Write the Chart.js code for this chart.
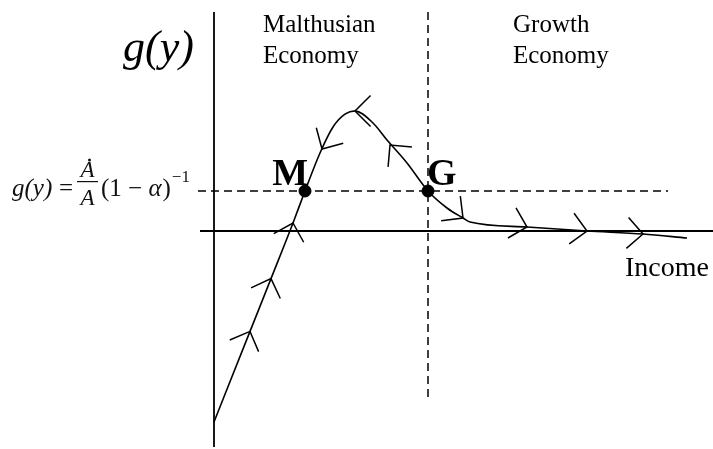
<!DOCTYPE html>
<html>
<head>
<meta charset="utf-8">
<script src="https://cdn.jsdelivr.net/npm/chart.js"></script>
<style>
  html, body { margin: 0; padding: 0; background: #fff; }
  #wrap { width: 713px; height: 449px; position: relative; }
</style>
</head>
<body>
<div id="wrap"><canvas id="growthChart"></canvas></div>
<script>
// Phase diagram: growth rate g(y) against income
const incomeRange = [-4.28, 9.98];
const growthRange = [-5.45, 5.775];

// path of the economy
const curveIncome = [0, 0.72, 1.14, 1.58, 1.82, 2.12, 2.38, 2.62, 2.82, 3.18, 3.46, 3.86, 4.28, 4.66, 4.98, 5.12, 6.26, 7.46, 8.58, 9.46];
const curveGrowth = [-4.775, -2.51, -1.19, 0.2, 1.0, 1.95, 2.6, 2.92, 3.0, 2.7, 2.275, 1.7, 1.0, 0.575, 0.325, 0.225, 0.1, 0.0, -0.075, -0.175];

// steady-state growth level and the two equilibria
const steadyGrowth = 1;
const equilibriaLabels = ['M', 'G'];
const equilibriaIncome = [1.82, 4.28];
const equilibriaGrowth = [1, 1];

// direction arrows along the path (heading in degrees, screen orientation)
const arrowIncome = [0.72, 1.14, 1.58, 2.16, 2.82, 3.52, 4.98, 6.26, 7.46, 8.58];
const arrowGrowth = [-2.51, -1.19, 0.2, 2.05, 3.0, 2.15, 0.325, 0.1, 0.0, -0.075];
const arrowHeading = [-68, -70, -74, 120, 180, -130, 38, 15, 9, 4];

const toPoints = (xs, ys) => xs.map((x, i) => ({ x: x, y: ys[i] }));

const arrowPlugin = {
    id: 'arrows',
    afterDatasetsDraw(chart) {
        const c = chart.ctx;
        const sx = chart.scales.x, sy = chart.scales.y;
        c.save();
        c.strokeStyle = '#000';
        c.lineWidth = 1.5;
        arrowIncome.forEach((v, i) => {
            const px = sx.getPixelForValue(v);
            const py = sy.getPixelForValue(arrowGrowth[i]);
            const back = (arrowHeading[i] + 180) * Math.PI / 180;
            const spread = 45 * Math.PI / 180;
            c.beginPath();
            c.moveTo(px + 22 * Math.cos(back - spread), py + 22 * Math.sin(back - spread));
            c.lineTo(px, py);
            c.lineTo(px + 22 * Math.cos(back + spread), py + 22 * Math.sin(back + spread));
            c.stroke();
        });
        c.restore();
    }
};

const labelPlugin = {
    id: 'labels',
    afterDraw(chart) {
        const c = chart.ctx;
        const sx = chart.scales.x, sy = chart.scales.y;
        c.save();
        c.fillStyle = '#000';
        c.textBaseline = 'alphabetic';

        // axis title
        c.font = 'italic 44px "Liberation Serif"';
        c.fillText('g(y)', 123, 61);

        // regime labels
        c.font = '25px "Liberation Serif"';
        c.fillText('Malthusian', 263, 32);
        c.fillText('Economy', 263, 63);
        c.fillText('Growth', 513, 32);
        c.fillText('Economy', 513, 63);

        c.font = '28px "Liberation Serif"';
        c.fillText('Income', 625, 276);

        // equilibrium labels
        c.font = 'bold 38px "Liberation Serif"';
        equilibriaLabels.forEach((lab, i) => {
            const px = sx.getPixelForValue(equilibriaIncome[i]);
            const py = sy.getPixelForValue(equilibriaGrowth[i]);
            if (i === 0) {
                c.textAlign = 'right';
                c.fillText(lab, px + 3, py - 6);
            } else {
                c.textAlign = 'left';
                c.fillText(lab, px - 1, py - 6);
            }
        });
        c.textAlign = 'left';

        // g(y) = (Adot / A)(1 - alpha)^-1
        c.fillStyle = '#111';
        c.font = 'italic 25px "Liberation Serif"';
        c.fillText('g(y)', 12, 196);
        c.font = '25px "Liberation Serif"';
        c.fillText('=', 59, 196);
        c.fillRect(77, 181, 21, 1.2);
        c.font = 'italic 23px "Liberation Serif"';
        c.textAlign = 'center';
        c.fillText('A', 87.5, 177);
        c.fillText('A', 87.5, 205);
        c.beginPath();
        c.arc(89.5, 160, 1.5, 0, Math.PI * 2);
        c.fill();
        c.textAlign = 'left';
        c.font = '25px "Liberation Serif"';
        c.fillText('(1 \u2212 ', 101, 196);
        const w1 = c.measureText('(1 \u2212 ').width;
        c.font = 'italic 25px "Liberation Serif"';
        c.fillText('\u03b1', 101 + w1, 196);
        const w2 = c.measureText('\u03b1').width;
        c.font = '25px "Liberation Serif"';
        c.fillText(')', 102 + w1 + w2, 196);
        const w3 = c.measureText(')').width;
        c.font = '17px "Liberation Serif"';
        c.fillText('\u22121', 103 + w1 + w2 + w3, 182);
        c.restore();
    }
};

new Chart(document.getElementById('growthChart'), {
    type: 'scatter',
    data: {
        datasets: [
            {
                // vertical axis
                data: [{ x: 0, y: 5.475 }, { x: 0, y: -5.4 }],
                showLine: true, borderColor: '#000', borderWidth: 1.8, pointRadius: 0
            },
            {
                // horizontal axis
                data: [{ x: -0.28, y: 0 }, { x: incomeRange[1], y: 0 }],
                showLine: true, borderColor: '#000', borderWidth: 1.8, pointRadius: 0
            },
            {
                // steady growth level
                data: [{ x: -0.32, y: steadyGrowth }, { x: 9.08, y: steadyGrowth }],
                showLine: true, borderColor: '#000', borderWidth: 1.5, borderDash: [8, 5], pointRadius: 0
            },
            {
                // divide between regimes
                data: [{ x: equilibriaIncome[1], y: 5.475 }, { x: equilibriaIncome[1], y: -4.175 }],
                showLine: true, borderColor: '#000', borderWidth: 1.5, borderDash: [8, 5], pointRadius: 0
            },
            {
                data: toPoints(curveIncome, curveGrowth),
                showLine: true, borderColor: '#000', borderWidth: 1.6, pointRadius: 0,
                cubicInterpolationMode: 'monotone'
            },
            {
                data: toPoints(equilibriaIncome, equilibriaGrowth),
                showLine: false, pointRadius: 6, pointBackgroundColor: '#000', pointBorderColor: '#000'
            }
        ]
    },
    options: {
        responsive: true,
        maintainAspectRatio: false,
        animation: false,
        layout: { padding: 0, autoPadding: false },
        plugins: {
            legend: { display: false },
            tooltip: { enabled: false }
        },
        scales: {
            x: { type: 'linear', display: false, min: incomeRange[0], max: incomeRange[1] },
            y: { type: 'linear', display: false, min: growthRange[0], max: growthRange[1] }
        }
    },
    plugins: [arrowPlugin, labelPlugin]
});
</script>
</body>
</html>
